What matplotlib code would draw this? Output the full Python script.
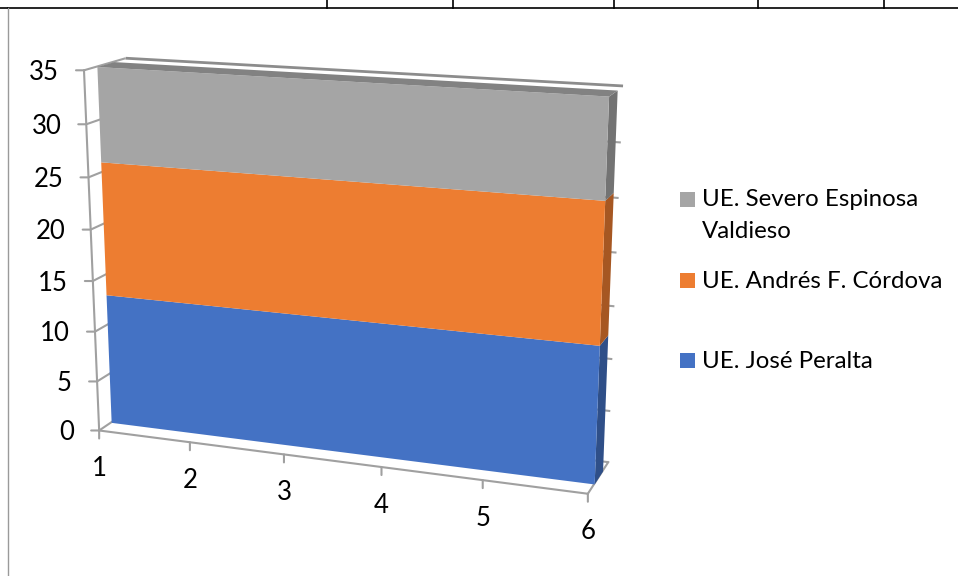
import numpy as np
import matplotlib
matplotlib.use("Agg")
import matplotlib.pyplot as plt
from matplotlib.transforms import Transform
from matplotlib.patches import Rectangle

# ---- data ----
categories = [1, 2, 3, 4, 5, 6]
jose_peralta = [13, 13, 13, 13, 13, 13]
andres_cordova = [13, 13, 13, 13, 13, 13]
severo_espinosa = [9, 9, 9, 9, 9, 9]
y_ticks = [0, 5, 10, 15, 20, 25, 30, 35]
series_names = ["UE. Severo Espinosa\nValdieso", "UE. Andrés F. Córdova", "UE. José Peralta"]

# ---- style ----
FACE = ["#4472C4", "#ED7D31", "#A5A5A5"]
SIDE = ["#2F4F88", "#A65722", "#737373"]
TOP = "#828282"
AXIS = "#A0A0A0"
plt.rcParams["font.family"] = ["Lato", "DejaVu Sans"]
FS = 17.3
FS_TICK = 18.5

# camera calibration of the 3-D chart box: (x, y, depth) -> pixel
calib = [
    ((1, 0, 0), (99, 430)), ((2, 0, 0), (190, 443)), ((3, 0, 0), (284, 455)),
    ((5, 0, 0), (483, 480)), ((6, 0, 0), (588, 493)), ((1, 35, 0), (85, 71)),
    ((1, 30, 0), (86, 124)), ((1, 5, 0), (96, 381)), ((6, 35, 1), (623, 86)),
    ((6, 0, 1), (608, 462)), ((1, 35, 1), (125, 58)), ((1, 0, 1), (139, 404)),
    ((6, 30, 1), (621, 142)), ((6, 5, 1), (610, 412)),
]
A = []
b = []
for (X, Y, Z), (u, v) in calib:
    A.append([X, Y, Z, 1, 0, 0, 0, 0, -u * X, -u * Y, -u * Z])
    A.append([0, 0, 0, 0, X, Y, Z, 1, -v * X, -v * Y, -v * Z])
    b += [u, v]
sol = np.linalg.lstsq(np.array(A, float), np.array(b, float), rcond=None)[0]
P = np.append(sol, 1.0).reshape(3, 4)


class Plane(Transform):
    """Maps 2-D data on one plane of the 3-D box through the perspective camera."""
    input_dims = 2
    output_dims = 2
    is_separable = False
    has_inverse = False

    def __init__(self, mapper):
        super().__init__()
        self.mapper = mapper

    def transform_non_affine(self, values):
        v = np.asarray(values, float)
        X, Y, Z = self.mapper(v[:, 0], v[:, 1])
        h = P @ np.vstack([X, Y, Z, np.ones_like(X)])
        return (h[:2] / h[2]).T


fig = plt.figure(figsize=(9.58, 5.76), dpi=100)
ax = fig.add_axes([0, 0, 1, 1])
ax.set_xlim(0, 958)
ax.set_ylim(576, 0)
ax.axis("off")
ax.set_autoscale_on(False)
px = ax.transData


def front(z):
    return Plane(lambda a, b: (a, b, np.full_like(a, z))) + px


def side(x):
    return Plane(lambda a, b: (np.full_like(a, x), b, a)) + px


def flat(y):
    return Plane(lambda a, b: (a, np.full_like(a, y), b)) + px


# surrounding document table rules
ax.plot([8, 958], [7.5, 7.5], color="black", lw=1.2)
ax.plot([0, 8], [8, 8], color="black", lw=1.2)
for xv in [327, 453, 614, 758, 884]:
    ax.plot([xv, xv], [0, 7.5], color="black", lw=1.2)
ax.plot([8, 8], [8, 576], color="#9A9A9A", lw=1.0)

Z0, Z1 = 0.30, 0.71
x0, x1 = categories[0], categories[-1]
lw = 1.5

# back-wall and left-wall lines sit behind the areas
for t in y_ticks:
    back_col = "#8C8C8C" if t == y_ticks[-1] else AXIS
    back_lw = 2.0 if t == y_ticks[-1] else lw
    ax.plot([x0, x1], [t, t], color=back_col, lw=back_lw, transform=front(1), solid_capstyle="butt", zorder=0.5)
    ax.plot([0, 1], [t, t], color=AXIS, lw=lw, transform=side(x0), solid_capstyle="butt", zorder=0.5)
ax.plot([x0, x1], [0, 0], color=AXIS, lw=lw, transform=front(0), zorder=0.6)
ax.plot([0, 1], [0, 0], color=AXIS, lw=lw, transform=side(x1), zorder=0.6)
ax.plot([x0, x0], [0, 35], color=AXIS, lw=lw, transform=front(0), zorder=0.6)

# stacked area faces
xs = np.array(categories, float)
lower = np.zeros(len(xs))
stack = [jose_peralta, andres_cordova, severo_espinosa]
for i, vals in enumerate(stack):
    upper = lower + np.array(vals, float)
    ax.fill_between([Z0, Z1], [lower[-1]] * 2, [upper[-1]] * 2, color=SIDE[i], lw=0, transform=side(x1))
    ax.fill_between(xs, lower, upper, color=FACE[i], lw=0, transform=front(Z0))
    lower = upper
ax.fill_between(xs, Z0, Z1, color=TOP, lw=0, transform=flat(lower[0]))

# ticks and tick labels
for t in y_ticks:
    ax.annotate("", xy=(x0, t), xycoords=front(0), xytext=(-8, 0), textcoords="offset pixels",
                arrowprops=dict(arrowstyle="-", color=AXIS, lw=lw, shrinkA=0, shrinkB=0))
    ax.annotate(str(t), xy=(x0, t), xycoords=front(0), xytext=(-25, -2), textcoords="offset pixels",
                ha="right", va="center", fontsize=FS_TICK, color="black")
for c in categories:
    ax.annotate("", xy=(c, 0), xycoords=front(0), xytext=(0, -8), textcoords="offset pixels",
                arrowprops=dict(arrowstyle="-", color=AXIS, lw=lw, shrinkA=0, shrinkB=0))
    ax.annotate(str(c), xy=(c, 0), xycoords=front(0), xytext=(0, -38), textcoords="offset pixels",
                ha="center", va="center", fontsize=FS_TICK, color="black")

# legend
legend_rows = [(192, FACE[2], 200), (273, FACE[1], 281), (353, FACE[0], 361)]
for name, (ytop, col, ytxt) in zip(series_names, legend_rows):
    ax.add_patch(Rectangle((680, ytop), 15, 15, color=col, lw=0))
    for k, line in enumerate(name.split("\n")):
        ax.text(702, ytxt + 32 * k, line, fontsize=FS, va="center", ha="left", color="black")

fig.savefig("out.png", dpi=100)
